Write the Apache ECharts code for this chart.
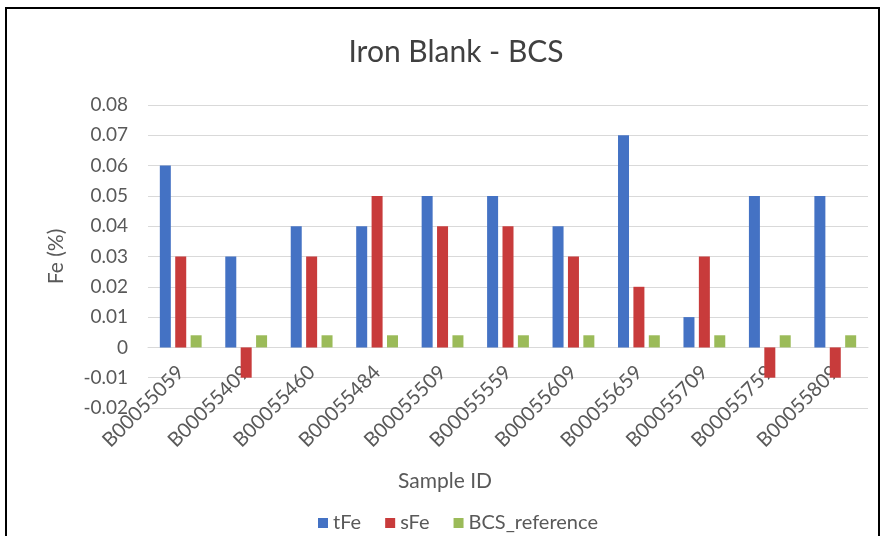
<!DOCTYPE html>
<html><head><meta charset="utf-8">
<script src="https://cdn.jsdelivr.net/npm/echarts@6/dist/echarts.min.js"></script>
<style>html,body{margin:0;padding:0;background:#fff}#c{width:883px;height:536px}</style>
</head><body><div id="c"></div>
<script>
const categories = ['B00055059','B00055409','B00055460','B00055484','B00055509','B00055559','B00055609','B00055659','B00055709','B00055759','B00055809'];
const tFe = [0.06, 0.03, 0.04, 0.04, 0.05, 0.05, 0.04, 0.07, 0.01, 0.05, 0.05];
const sFe = [0.03, -0.01, 0.03, 0.05, 0.04, 0.04, 0.03, 0.02, 0.03, -0.01, -0.01];
const bcsRef = [0.004, 0.004, 0.004, 0.004, 0.004, 0.004, 0.004, 0.004, 0.004, 0.004, 0.004];
const yTicks = [-0.02, -0.01, 0, 0.01, 0.02, 0.03, 0.04, 0.05, 0.06, 0.07, 0.08];

const font = "Lato, 'Open Sans', sans-serif";
const grey = '#595959';
const chart = echarts.init(document.getElementById('c'));
chart.setOption({
  animation: false,
  textStyle: { fontFamily: font },
  graphic: [
    { type: 'rect', shape: { x: 6, y: 8, width: 873, height: 540 }, style: { fill: 'none', stroke: '#000', lineWidth: 2 } },
    { type: 'text', left: 398, top: 471, style: { text: 'Sample ID', font: "21px " + font, fill: grey } }
  ],
  title: { text: 'Iron Blank - BCS', left: 451, textAlign: 'center', top: 32, textStyle: { fontFamily: font, fontSize: 30, fontWeight: 'normal', color: '#404040' } },
  grid: { left: 148, right: 15, top: 105, bottom: 128 },
  legend: {
    top: 513, left: 318, padding: 0, itemWidth: 10, itemHeight: 10, itemGap: 24,
    textStyle: { fontSize: 20, color: grey, fontFamily: font },
    data: [{ name: 'tFe', icon: 'rect' }, { name: 'sFe', icon: 'rect' }, { name: 'BCS_reference', icon: 'rect' }]
  },
  xAxis: {
    type: 'category', data: categories, offset: -61,
    axisLine: { onZero: false, lineStyle: { color: '#d9d9d9' } },
    axisTick: { show: false },
    axisLabel: { rotate: 45, fontSize: 20, color: grey, margin: 22, interval: 0 }
  },
  yAxis: {
    type: 'value', min: -0.02, max: 0.08, interval: 0.01,
    name: 'Fe (%)', nameLocation: 'middle', nameGap: 81, nameRotate: 90,
    nameTextStyle: { fontSize: 21, color: grey },
    axisLine: { show: false }, axisTick: { show: false },
    axisLabel: { fontSize: 19, color: grey, margin: 20, formatter: v => { const r = Math.round(v * 100) / 100; return yTicks.includes(r) ? String(r) : ''; } },
    splitLine: { lineStyle: { color: '#d9d9d9' } }
  },
  series: [
    { name: 'tFe', type: 'bar', data: tFe, barWidth: 11, barGap: '40%', itemStyle: { color: '#4472C4' } },
    { name: 'sFe', type: 'bar', data: sFe, barWidth: 11, barGap: '40%', itemStyle: { color: '#C83B3B' } },
    { name: 'BCS_reference', type: 'bar', data: bcsRef, barWidth: 11, barGap: '40%', itemStyle: { color: '#9BBB59' } }
  ]
});
</script></body></html>
